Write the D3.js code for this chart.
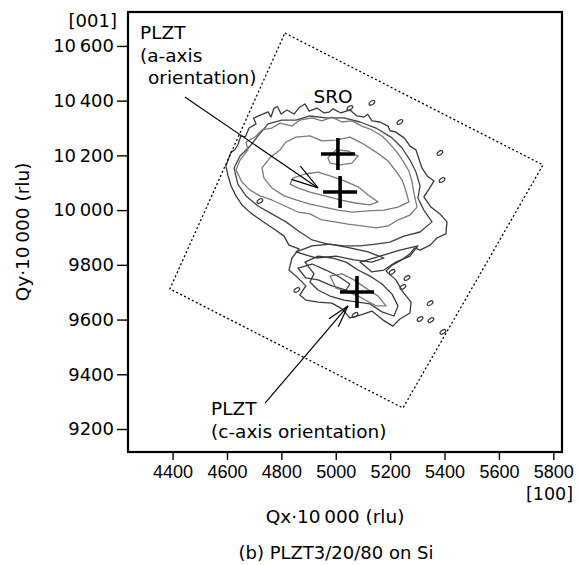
<!DOCTYPE html>
<html>
<head>
<meta charset="utf-8">
<script src="https://cdn.jsdelivr.net/npm/d3@7"></script>
<style>
  body { margin: 0; background: #fff; }
  svg { display: block; }
</style>
</head>
<body>
<div id="chart"></div>
<script>
// reciprocal space map, PLZT3/20/80 on Si
const xTicks = [4400, 4600, 4800, 5000, 5200, 5400, 5600, 5800];
const yTicks = [9200, 9400, 9600, 9800, 10000, 10200, 10400, 10600];

// scan area (rotated window), corners in Qx, Qy
const scanArea = [[4813, 10647], [5762, 10165], [5247, 9277], [4390, 9712]];

// peak positions: SRO, a-axis PLZT, c-axis PLZT
const peaks = [[5008, 10205], [5016, 10066], [5078, 9701]];

// iso-intensity contours (outer = dark, inner = grey)
const outerDark = [[4596,10161],[4615,10212],[4628,10220],[4640,10238],[4651,10271],[4668,10268],[4681,10300],[4707,10315],[4698,10336],[4725,10348],[4751,10359],[4762,10340],[4773,10373],[4786,10378],[4799,10351],[4821,10366],[4846,10351],[4868,10377],[4887,10388],[4902,10362],[4931,10373],[4957,10355],[4975,10358],[4990,10370],[5019,10355],[5052,10366],[5078,10344],[5104,10340],[5118,10350],[5133,10326],[5163,10322],[5192,10307],[5200,10290],[5221,10285],[5251,10264],[5262,10250],[5273,10234],[5295,10220],[5306,10187],[5317,10154],[5336,10125],[5361,10106],[5343,10077],[5324,10048],[5350,10011],[5383,9986],[5409,9957],[5405,9913],[5372,9898],[5347,9872],[5310,9854],[5290,9862],[5273,9840],[5236,9814],[5207,9799],[5185,9777],[5221,9745],[5247,9701],[5277,9664],[5273,9624],[5236,9602],[5210,9576],[5174,9598],[5133,9631],[5093,9617],[5052,9606],[5023,9639],[4986,9660],[4935,9664],[4890,9671],[4868,9690],[4890,9723],[4857,9756],[4828,9781],[4839,9825],[4865,9858],[4828,9872],[4810,9905],[4773,9931],[4729,9960],[4688,9989],[4655,10019],[4633,10052],[4615,10088],[4604,10125]];
const secondDark = [[4626,10154],[4648,10198],[4685,10234],[4714,10271],[4751,10315],[4802,10329],[4854,10329],[4905,10344],[4964,10337],[5030,10337],[5089,10322],[5148,10300],[5207,10264],[5244,10227],[5273,10183],[5295,10139],[5310,10088],[5302,10044],[5324,10000],[5354,9957],[5310,9920],[5251,9905],[5199,9883],[5148,9876],[5089,9869],[5030,9869],[4971,9876],[4913,9891],[4868,9920],[4817,9957],[4765,9986],[4714,10015],[4670,10052],[4640,10095]];
const grey1 = [[4633,10147],[4648,10183],[4677,10220],[4670,10249],[4703,10267],[4729,10293],[4765,10300],[4795,10318],[4839,10307],[4868,10329],[4913,10337],[4949,10326],[4986,10340],[5023,10322],[5060,10326],[5096,10307],[5133,10293],[5170,10271],[5199,10242],[5225,10212],[5247,10180],[5269,10143],[5280,10106],[5288,10059],[5299,10011],[5273,9982],[5229,9964],[5192,9942],[5148,9935],[5096,9942],[5045,9949],[4997,9957],[4949,9964],[4905,9986],[4861,9993],[4813,10015],[4765,10037],[4721,10052],[4685,10073],[4655,10103]];
const grey2 = [[4729,10154],[4758,10191],[4795,10220],[4817,10249],[4854,10267],[4905,10271],[4949,10253],[5001,10256],[5052,10267],[5096,10245],[5148,10212],[5192,10180],[5221,10143],[5244,10110],[5258,10070],[5269,10030],[5229,10011],[5177,10000],[5119,9997],[5060,9993],[5008,10000],[4957,10011],[4905,10022],[4854,10037],[4810,10052],[4765,10081],[4736,10117]];
const grey3 = [[4843,10117],[4887,10132],[4935,10139],[4979,10125],[5034,10106],[5082,10085],[5119,10055],[5155,10030],[5126,10019],[5071,10026],[5016,10037],[4960,10052],[4905,10066],[4861,10081],[4832,10095]];
const grey4 = [[4971,10191],[5001,10220],[5045,10216],[5082,10198],[5060,10172],[5016,10165],[4979,10172]];
const lowerDark1 = [[4887,9810],[4935,9832],[4986,9825],[5038,9810],[5082,9781],[5126,9759],[5170,9730],[5207,9693],[5229,9650],[5214,9613],[5170,9628],[5126,9657],[5082,9664],[5030,9671],[4979,9686],[4935,9708],[4905,9737],[4920,9767]];
const lowerDark2 = [[4854,9847],[4913,9869],[4979,9876],[5052,9862],[5119,9847],[5177,9825],[5133,9810],[5067,9818],[5001,9832],[4927,9825]];
const lowerDark3 = [[5089,9810],[5163,9832],[5236,9854],[5302,9869],[5273,9832],[5221,9810],[5177,9781],[5133,9774]];
const lowerDark4 = [[4861,9788],[4913,9803],[4964,9781],[5008,9759],[5052,9730],[5038,9708],[4986,9723],[4935,9745],[4890,9752]];
const lowerGrey = [[4979,9759],[5023,9767],[5067,9745],[5111,9715],[5155,9686],[5185,9650],[5148,9650],[5096,9679],[5045,9701],[5001,9715]];
const islands = [[4857,9708],[5347,9660],[5310,9602],[5350,9598],[5394,9555],[5262,9752],[5247,9719],[5207,9774],[5071,9617],[5133,10392],[5052,10373],[5236,10322],[5383,10209],[5391,10110],[4721,10033]];

const W = 579, H = 565;
const FONT = "'DejaVu Sans', sans-serif";
const svg = d3.select("#chart").append("svg").attr("width", W).attr("height", H);

const x = d3.scaleLinear().domain([4236, 5832]).range([128, 562]);
const y = d3.scaleLinear().domain([9116, 10724]).range([452, 12]);

const fmt = v => v >= 10000 ? d3.format("d")(v).replace(/(\d\d)(\d{3})$/, "$1\u2009$2") : String(v);

// contours
const line = d3.line().x(d => x(d[0])).y(d => y(d[1])).curve(d3.curveLinearClosed);
const contours = [
  { pts: outerDark, c: "#3a3a3a" }, { pts: secondDark, c: "#444" },
  { pts: grey1, c: "#7a7a7a" }, { pts: grey2, c: "#7a7a7a" },
  { pts: grey3, c: "#7a7a7a" }, { pts: grey4, c: "#7a7a7a" },
  { pts: lowerDark1, c: "#3a3a3a" }, { pts: lowerDark2, c: "#3a3a3a" },
  { pts: lowerDark3, c: "#3a3a3a" }, { pts: lowerDark4, c: "#3a3a3a" },
  { pts: lowerGrey, c: "#7a7a7a" }
];
const cg = svg.append("g");
cg.selectAll("path.ct").data(contours).join("path").attr("class", "ct")
  .attr("d", d => line(d.pts)).attr("fill", "none")
  .attr("stroke", d => d.c).attr("stroke-width", 1.3).attr("stroke-linejoin", "round");
cg.selectAll("ellipse").data(islands).join("ellipse")
  .attr("transform", d => `translate(${x(d[0])},${y(d[1])}) rotate(-35)`)
  .attr("rx", 3.2).attr("ry", 1.8).attr("fill", "none").attr("stroke", "#3a3a3a").attr("stroke-width", 1.2);

// scan window
svg.append("path").attr("d", line(scanArea)).attr("fill", "none")
  .attr("stroke", "#000").attr("stroke-width", 1.3).attr("stroke-dasharray", "2,2.4");

// peak crosses
const cr = svg.append("g").attr("stroke", "#000").attr("stroke-width", 3.6);
peaks.forEach(p => {
  const px = x(p[0]), py = y(p[1]);
  cr.append("line").attr("x1", px - 17).attr("x2", px + 17).attr("y1", py).attr("y2", py);
  cr.append("line").attr("x1", px).attr("x2", px).attr("y1", py - 16).attr("y2", py + 16);
});

// arrows
function arrow(from, to, len, ang) {
  const x0 = x(from[0]), y0 = y(from[1]), x1 = x(to[0]), y1 = y(to[1]);
  const a = Math.atan2(y0 - y1, x0 - x1);
  const g = svg.append("g").attr("stroke", "#000").attr("stroke-width", 1.2).attr("fill", "none");
  g.append("line").attr("x1", x0).attr("y1", y0).attr("x2", x1).attr("y2", y1);
  [-ang, ang].forEach(s => {
    g.append("line").attr("x1", x1).attr("y1", y1)
      .attr("x2", x1 + len * Math.cos(a + s)).attr("y2", y1 + len * Math.sin(a + s));
  });
}
arrow([4445, 10413], [4935, 10081], 28, 0.29);
arrow([4740, 9295], [5045, 9650], 23, 0.27);

// frame and axes
svg.append("rect").attr("x", 128).attr("y", 12).attr("width", 434).attr("height", 440)
  .attr("fill", "none").attr("stroke", "#000").attr("stroke-width", 2.2);

const xAxis = svg.append("g").attr("transform", "translate(0,452)")
  .call(d3.axisBottom(x).tickValues(xTicks).tickSize(8).tickPadding(5).tickFormat(fmt));
xAxis.select(".domain").remove();
xAxis.selectAll("line").attr("stroke-width", 1.4);
xAxis.selectAll("text").attr("font-family", "'Liberation Sans', Arial, sans-serif")
  .attr("font-size", 18).attr("fill", "#000");

const yAxis = svg.append("g").attr("transform", "translate(128,0)")
  .call(d3.axisLeft(y).tickValues(yTicks).tickSize(11).tickPadding(3).tickFormat(fmt));
yAxis.select(".domain").remove();
yAxis.selectAll("line").attr("stroke-width", 1.4);
yAxis.selectAll("text").attr("font-family", FONT).attr("font-size", 18).attr("fill", "#000");

// texts
function txt(tx, ty, s, anchor, size) {
  return svg.append("text").attr("x", tx).attr("y", ty).attr("text-anchor", anchor || "start")
    .attr("font-family", FONT).attr("font-size", size || 18.5).attr("fill", "#000").text(s);
}
txt(117, 27, "[001]", "end", 18);
txt(573, 500, "[100]", "end", 17.5);
txt(335, 523, "Qx\u00b710\u2009000 (rlu)", "middle");
txt(336, 559, "(b) PLZT3/20/80 on Si", "middle", 18);
svg.append("text").attr("transform", "translate(29,232) rotate(-90)").attr("text-anchor", "middle")
  .attr("font-family", FONT).attr("font-size", 18.5).text("Qy\u00b710\u2009000 (rlu)");

txt(140, 39, "PLZT");
txt(140, 62, "(a-axis");
txt(148, 84, "orientation)");
txt(333, 103, "SRO", "middle");
txt(211, 415, "PLZT");
txt(211, 438, "(c-axis orientation)");
</script>
</body>
</html>
